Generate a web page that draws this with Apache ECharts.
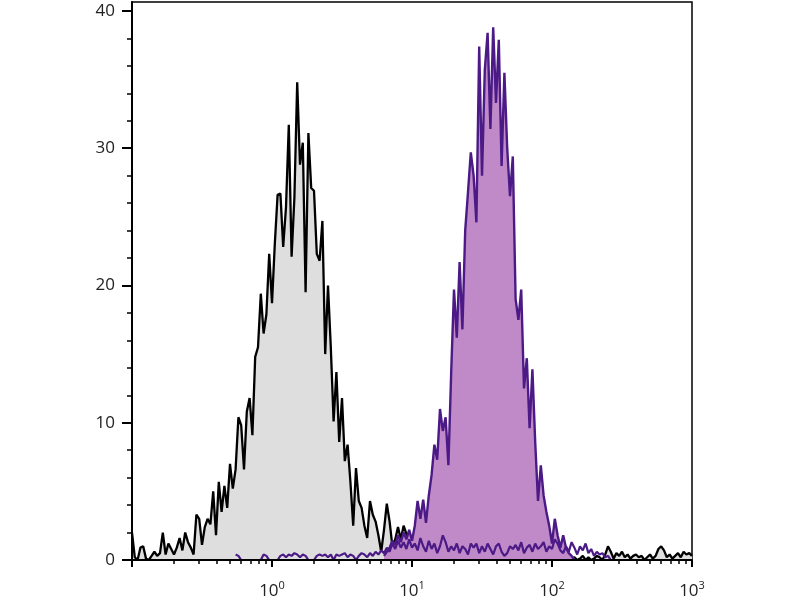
<!DOCTYPE html>
<html>
<head>
<meta charset="utf-8">
<script src="https://cdn.jsdelivr.net/npm/echarts@6/dist/echarts.min.js"></script>
<style>html,body{margin:0;padding:0;background:#fff}#chart{width:800px;height:600px}</style>
</head>
<body>
<div id="chart"></div>
<script>
// Channel axis: bins evenly spaced in log10(fluorescence)
const BIN_START = -1;      // log10 of first channel
const BIN_STEP = 0.02;     // log10 width of a channel

// Decade tick labels (exponents) and minor multipliers
const DECADE_LABELS = [0, 1, 2, 3];
const DECADE_TICKS = [-1, 0, 1, 2, 3];
const MINOR_MULTIPLIERS = [2, 3, 4, 5, 6, 7, 8, 9];
const Y_MAJOR = [0, 10, 20, 30, 40];
const Y_MINOR = [2, 4, 6, 8, 12, 14, 16, 18, 22, 24, 26, 28, 32, 34, 36, 38];

// Control (unstained) histogram, channels 0..200
const CONTROL_START = 0;
const controlCounts = [
  2.0, 0.2, 0.0, 0.9, 1.0, 0.1, 0.0, 0.3, 0.6, 0.3,
  0.5, 2.0, 0.4, 1.2, 0.8, 0.4, 0.9, 1.6, 0.7, 2.0,
  1.3, 0.9, 0.4, 3.3, 3.0, 1.1, 2.4, 3.0, 2.6, 5.0,
  1.8, 5.7, 3.5, 5.4, 3.8, 7.0, 5.2, 6.6, 10.4, 9.8,
  6.6, 10.8, 11.8, 9.1, 14.8, 15.5, 19.4, 16.5, 17.9, 22.3,
  18.7, 23.0, 26.6, 26.7, 22.8, 25.7, 31.7, 22.1, 26.4, 34.8,
  28.8, 30.4, 19.5, 31.1, 27.1, 26.9, 22.3, 21.8, 24.7, 15.0,
  20.0, 15.5, 10.1, 13.7, 8.6, 11.8, 7.2, 8.4, 5.7, 2.5,
  6.7, 4.3, 3.8, 2.5, 1.6, 4.3, 3.3, 2.8, 1.8, 0.6,
  2.2, 4.1, 2.8, 1.0, 1.5, 2.4, 1.5, 2.5, 1.9, 1.2,
  0.5, 0.8, 0.3, 0.6, 0.2, 0.4, 0.0, 0.3, 0.5, 0.2,
  0.3, 0.0, 0.4, 0.2, 0.0, 0.3, 0.2, 0.0, 0.4, 0.1,
  0.2, 0.0, 0.3, 0.1, 0.0, 0.2, 0.3, 0.0, 0.1, 0.2,
  0.0, 0.3, 0.1, 0.0, 0.2, 0.0, 0.1, 0.3, 0.0, 0.2,
  0.1, 0.0, 0.2, 0.0, 0.3, 0.1, 0.0, 0.2, 0.1, 0.0,
  0.2, 0.0, 0.1, 0.3, 0.0, 0.2, 0.0, 0.1, 0.2, 0.0,
  0.1, 0.3, 0.0, 0.2, 0.0, 0.1, 0.3, 0.2, 0.0, 0.4,
  1.0, 0.6, 0.1, 0.5, 0.3, 0.6, 0.2, 0.4, 0.1, 0.3,
  0.4, 0.2, 0.3, 0.0, 0.2, 0.4, 0.1, 0.3, 0.8, 1.0,
  0.7, 0.2, 0.4, 0.1, 0.3, 0.5, 0.2, 0.6, 0.4, 0.5,
  0.3
];

// Stained histogram, channels 90..158
const STAINED_START = 90;
const stainedCounts = [
  0.3, 0.6, 0.9, 1.4, 1.1, 1.8, 1.3, 2.0, 1.5, 2.2,
  1.4, 2.5, 4.3, 3.0, 4.4, 2.7, 4.7, 6.2, 8.4, 7.3,
  11.0, 9.4, 10.4, 6.9, 13.7, 19.7, 16.2, 21.7, 16.8, 24.0,
  26.8, 29.7, 28.0, 24.6, 37.4, 28.0, 35.7, 38.4, 31.4, 38.8,
  33.3, 37.9, 28.7, 35.5, 30.0, 26.5, 29.4, 19.0, 17.5, 19.7,
  12.5, 14.7, 9.6, 13.9, 8.6, 4.3, 6.9, 4.7, 3.5, 2.5,
  1.2, 3.0, 1.8, 0.9, 1.8, 0.9, 0.5, 0.3, 0.0
];

// Stained low-level events trace, channels 37..171
const LOW_START = 37;
const lowCounts = [
  0.4, 0.3, 0.0, 0.0, 0.0, 0.0, 0.0, 0.0, 0.0, 0.0,
  0.4, 0.3, 0.0, 0.0, 0.0, 0.0, 0.3, 0.4, 0.2, 0.4,
  0.3, 0.5, 0.4, 0.2, 0.4, 0.3, 0.0, 0.0, 0.0, 0.3,
  0.4, 0.3, 0.4, 0.2, 0.4, 0.0, 0.4, 0.3, 0.4, 0.5,
  0.2, 0.4, 0.3, 0.0, 0.3, 0.5, 0.4, 0.2, 0.5, 0.3,
  0.6, 0.4, 0.7, 0.5, 0.9, 0.6, 1.2, 0.8, 1.4, 0.9,
  1.3, 0.8, 1.5, 0.9, 1.2, 0.7, 1.6, 1.0, 0.6, 1.4,
  0.8, 1.2, 0.5, 1.0, 1.8, 1.3, 0.6, 1.0, 0.7, 1.2,
  0.5, 1.0, 0.8, 0.4, 1.2, 0.9, 1.2, 0.5, 1.0, 0.6,
  1.2, 0.8, 0.4, 1.0, 1.2, 0.6, 0.3, 0.5, 1.0, 0.8,
  1.1, 0.7, 1.3, 0.5, 0.9, 1.1, 0.6, 1.2, 0.8, 1.0,
  1.3, 0.6, 1.0, 0.8, 1.5, 1.2, 0.7, 0.5, 1.0, 0.6,
  1.3, 0.9, 0.4, 1.0, 0.7, 1.2, 0.5, 0.8, 0.3, 0.6,
  0.4, 0.5, 0.2, 0.3, 0.0
];

function toPoints(counts, startIndex) {
  return counts.map((c, k) => [+(BIN_START + (startIndex + k) * BIN_STEP).toFixed(4), c]);
}

const minorX = [];
DECADE_TICKS.slice(0, -1).forEach(d => MINOR_MULTIPLIERS.forEach(m => minorX.push(d + Math.log10(m))));

const FONT = 'Open Sans';
const chart = echarts.init(document.getElementById('chart'));
chart.setOption({
  animation: false,
  backgroundColor: '#fff',
  grid: { left: 132, right: 108, top: 2, bottom: 38, show: true, borderColor: '#000', borderWidth: 1.5 },
  xAxis: [
    {
      type: 'value', min: -1, max: 3, position: 'bottom', z: 10,
      axisLine: { show: true, onZero: false, lineStyle: { color: '#000', width: 2 } },
      axisTick: { show: true, customValues: DECADE_TICKS, length: 7, lineStyle: { color: '#000', width: 2 } },
      axisLabel: {
        show: true, customValues: DECADE_LABELS, margin: 20, color: '#222', fontFamily: FONT,
        formatter: v => '{b|10}{s|' + v + '}',
        rich: {
          b: { fontSize: 17, lineHeight: 20, verticalAlign: 'bottom', fontFamily: FONT, color: '#222' },
          s: { fontSize: 11, lineHeight: 10, verticalAlign: 'top', fontFamily: FONT, color: '#222' }
        }
      },
      splitLine: { show: false }
    },
    {
      type: 'value', min: -1, max: 3, position: 'bottom', z: 10,
      axisLine: { show: false, onZero: false },
      axisTick: { show: true, customValues: minorX, length: 4, lineStyle: { color: '#000', width: 1.5 } },
      axisLabel: { show: false },
      splitLine: { show: false }
    }
  ],
  yAxis: [
    {
      type: 'value', min: 0, max: 40.65, position: 'left', z: 10,
      axisLine: { show: true, onZero: false, lineStyle: { color: '#000', width: 2 } },
      axisTick: { show: true, customValues: Y_MAJOR, length: 10, lineStyle: { color: '#000', width: 2 } },
      axisLabel: { show: true, customValues: Y_MAJOR, margin: 17, fontSize: 17, color: '#222', fontFamily: FONT },
      splitLine: { show: false }
    },
    {
      type: 'value', min: 0, max: 40.65, position: 'left', z: 10,
      axisLine: { show: false, onZero: false },
      axisTick: { show: true, customValues: Y_MINOR, length: 5, lineStyle: { color: '#000', width: 1.5 } },
      axisLabel: { show: false },
      splitLine: { show: false }
    }
  ],
  series: [
    {
      name: 'Control', type: 'line', xAxisIndex: 0, yAxisIndex: 0, z: 2,
      data: toPoints(controlCounts, CONTROL_START),
      showSymbol: false, symbol: 'none',
      lineStyle: { color: '#000', width: 2.3 },
      areaStyle: { color: '#dedede', opacity: 1 }
    },
    {
      name: 'Stained', type: 'line', xAxisIndex: 0, yAxisIndex: 0, z: 3,
      data: toPoints(stainedCounts, STAINED_START),
      showSymbol: false, symbol: 'none',
      lineStyle: { color: '#4b1a86', width: 2.4 },
      areaStyle: { color: '#c08ac8', opacity: 1 }
    },
    {
      name: 'Stained low', type: 'line', xAxisIndex: 0, yAxisIndex: 0, z: 4,
      data: toPoints(lowCounts, LOW_START),
      showSymbol: false, symbol: 'none',
      lineStyle: { color: '#4b1a86', width: 2.2 }
    }
  ]
});
</script>
</body>
</html>
